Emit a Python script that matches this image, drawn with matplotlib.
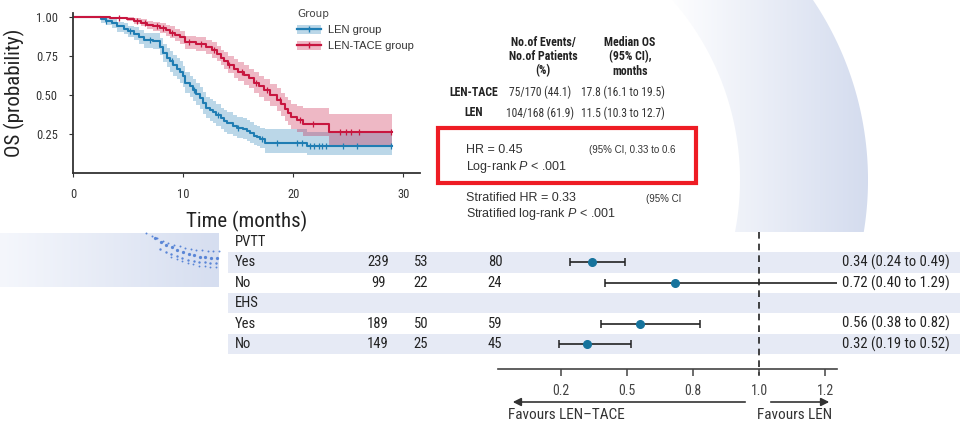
import numpy as np
import matplotlib.pyplot as plt
from matplotlib import font_manager
from matplotlib.colors import LinearSegmentedColormap
from matplotlib.patches import Polygon, Patch, Rectangle
from matplotlib.lines import Line2D

# ---- Kaplan-Meier data ----
t_len = [0, 2.5, 3.0, 3.5, 4.0, 4.6, 5.0, 5.5, 6.0, 6.4, 7.3, 7.9, 8.2, 8.5, 8.8,
         9.1, 9.4, 9.7, 10.0, 10.2, 10.6, 10.9, 11.2, 11.5, 11.8, 12.1, 12.4, 12.7,
         13.0, 13.4, 13.7, 14.0, 14.5, 14.9, 15.4, 15.8, 16.1, 16.4, 16.7, 17.0,
         17.4, 21.2, 29.0]
s_len = [1.0, .985, .975, .96, .94, .925, .91, .893, .87, .85, .846, .81, .77, .74,
         .715, .69, .67, .65, .62, .58, .555, .53, .505, .48, .45, .42, .405, .39,
         .37, .35, .335, .32, .30, .29, .28, .27, .255, .24, .23, .22, .19, .175, .175]
lo_len = [1.0, .965, .95, .93, .905, .89, .87, .85, .825, .80, .795, .755, .71, .68,
          .65, .625, .605, .58, .55, .51, .485, .46, .435, .41, .38, .35, .335, .32,
          .30, .28, .265, .25, .235, .225, .215, .205, .19, .18, .17, .16, .13, .115, .115]
hi_len = [1.0, 1.0, .995, .985, .97, .96, .945, .935, .915, .895, .895, .865, .83,
          .80, .78, .755, .735, .715, .685, .65, .625, .60, .575, .55, .52, .49, .475,
          .46, .44, .42, .405, .39, .37, .36, .35, .34, .325, .31, .30, .29, .28, .265, .265]

t_tace = [0, 3.4, 4.9, 5.5, 6.2, 6.7, 7.3, 7.9, 8.4, 8.8, 9.3, 9.7, 10.2, 11.2, 12.1,
          12.6, 13.1, 13.4, 13.7, 14.1, 14.6, 15.0, 15.5, 16.0, 16.4, 16.9, 17.3,
          17.9, 18.5, 18.9, 19.2, 19.5, 19.8, 20.3, 20.9, 23.2, 29.0]
s_tace = [1.0, .995, .99, .975, .96, .95, .94, .93, .915, .90, .885, .87, .84, .83,
          .81, .79, .765, .74, .72, .695, .67, .65, .63, .61, .58, .555, .53, .50,
          .47, .44, .41, .385, .36, .34, .315, .26, .26]
lo_tace = [1.0, .985, .975, .955, .94, .925, .91, .895, .88, .865, .845, .83, .795,
           .785, .76, .74, .715, .69, .665, .64, .61, .59, .565, .545, .51, .485, .46,
           .43, .395, .365, .335, .31, .285, .265, .24, .18, .18]
hi_tace = [1.0, 1.0, 1.0, .995, .985, .975, .97, .96, .95, .94, .925, .91, .88, .875,
           .855, .84, .815, .79, .775, .75, .73, .71, .69, .67, .645, .62, .60, .57,
           .545, .515, .49, .465, .44, .43, .42, .38, .38]

cens_len = [3.0, 5.2, 7.0, 9.0, 11.0, 13.2, 15.0, 17.2, 18.5, 20.3, 20.8, 21.5,
            21.9, 22.3, 22.6, 23.0, 24.5, 25.8, 28.9]
cens_tace = [4.2, 5.8, 6.5, 7.6, 8.2, 9.0, 10.5, 11.6, 12.8, 14.2, 15.3, 16.6, 17.6,
             18.8, 20.6, 21.8, 24.2, 24.8, 25.2, 26.0, 28.9]

# ---- summary table ----
groups = ["LEN-TACE", "LEN"]
events = ["75/170 (44.1)", "104/168 (61.9)"]
median_os = ["17.8 (16.1 to 19.5)", "11.5 (10.3 to 12.7)"]

# ---- forest plot data ----
row_labels = ["PVTT", "Yes", "No", "EHS", "Yes", "No"]
col_a = ["", "239", "99", "", "189", "149"]
col_b = ["", "53", "22", "", "50", "25"]
col_c = ["", "80", "24", "", "59", "45"]
hr = [None, 0.34, 0.72, None, 0.56, 0.32]
hr_lo = [None, 0.24, 0.40, None, 0.38, 0.19]
hr_hi = [None, 0.49, 1.29, None, 0.82, 0.52]
hr_ticks = [0.2, 0.5, 0.8, 1.0, 1.2]

BLUE = "#1f7db3"
RED = "#c8163f"


def pick_narrow():
    fonts = font_manager.fontManager.ttflist
    for want in ["Liberation Sans Narrow", "Roboto Condensed", "Open Sans Condensed",
                 "Noto Sans Condensed", "DejaVu Sans Condensed"]:
        if any(f.name == want for f in fonts):
            return want, "normal"
    for f in fonts:
        if f.name in ("DejaVu Sans", "Roboto", "Noto Sans", "Open Sans") and \
                f.stretch in ("condensed", "semi-condensed"):
            return f.name, f.stretch
    return "Liberation Sans", "normal"


NARROW_NAME, NARROW_STRETCH = pick_narrow()
NARROW = [NARROW_NAME, "DejaVu Sans"]
SANS = ["Liberation Sans", "DejaVu Sans"]
plt.rcParams["mathtext.fontset"] = "custom"
plt.rcParams["mathtext.it"] = "Liberation Sans:italic"
plt.rcParams["mathtext.rm"] = "Liberation Sans"

fig = plt.figure(figsize=(9.6, 4.32), dpi=100)

# background layer in pixel coordinates
bg = fig.add_axes([0, 0, 1, 1], zorder=0)
bg.axis("off")

# crescent gradient (decoration)
ring_cmap = LinearSegmentedColormap.from_list("ring", ["#ffffff", "#d3dbee"])
yy = np.linspace(0, 232, 60)
x_in = 467 + np.sqrt(273 ** 2 - (yy - 180) ** 2)
x_out = 546 + np.sqrt(322 ** 2 - (yy - 180) ** 2)
ring = Polygon(np.vstack([np.column_stack([x_in, yy]),
                          np.column_stack([x_out[::-1], yy[::-1]])]),
               closed=True, facecolor="none", edgecolor="none",
               transform=bg.transData)
bg.add_patch(ring)
im = bg.imshow(np.linspace(0, 1, 256)[None, :], cmap=ring_cmap, aspect="auto",
               extent=(665, 872, 232, 0), zorder=0)
im.set_clip_path(ring)

# left banner with dots (decoration)
band_cmap = LinearSegmentedColormap.from_list("band", ["#f5f7fc", "#d6def0"])
bg.imshow(np.linspace(0, 1, 256)[None, :], cmap=band_cmap, aspect="auto",
          extent=(0, 219, 287, 233), zorder=0)
for x0, y0, y1, sz in [(146, 233, 251, 2.0), (155, 238, 258, 5.5),
                       (160, 249, 263, 3.0), (171, 257, 267, 1.8)]:
    xs = np.arange(x0, 219, 5.6)
    frac = (xs - x0) / (216 - x0)
    ys = y1 - (y1 - y0) * np.clip(1 - frac, 0, 1) ** 2
    bg.scatter(xs, ys, s=sz, color="#3a6fd0", alpha=0.8, linewidths=0, zorder=1)
bg.set_xlim(0, 960)
bg.set_ylim(432, 0)

# ---- KM plot ----
km = fig.add_axes([73 / 960, 1 - 173 / 432, 347 / 960, 160 / 432], zorder=2)
km.patch.set_alpha(0)
for t, s, lo, hi, cens, col in [(t_len, s_len, lo_len, hi_len, cens_len, BLUE),
                                (t_tace, s_tace, lo_tace, hi_tace, cens_tace, RED)]:
    km.fill_between(t, lo, hi, step="post", color=col, alpha=0.3, linewidth=0)
    km.step(t, s, where="post", color=col, lw=1.5)
    idx = np.searchsorted(t, cens, side="right") - 1
    km.plot(cens, np.array(s)[idx], ls="none", marker="|", ms=4, mew=0.9, color=col)
km.set_xlim(0, 31.5)
km.set_ylim(0, 1.026)
km.set_xticks([0, 10, 20, 30])
km.set_yticks([0.25, 0.5, 0.75, 1.0])
km.set_yticklabels(["0.25", "0.50", "0.75", "1.00"])
for sp in ["top", "right"]:
    km.spines[sp].set_visible(False)
for sp in ["left", "bottom"]:
    km.spines[sp].set_linewidth(1.3)
    km.spines[sp].set_color("#333333")
km.tick_params(length=3, labelsize=9, colors="#333333", pad=8)
for lab in km.get_xticklabels() + km.get_yticklabels():
    lab.set_family(NARROW)
    lab.set_stretch(NARROW_STRETCH)
km.set_xlabel("Time (months)", family=NARROW, stretch=NARROW_STRETCH, fontsize=15,
              color="#222222", labelpad=7)
km.set_ylabel("OS (probability)", family=NARROW, stretch=NARROW_STRETCH,
              fontsize=15, color="#222222", labelpad=8)

handles = [(Patch(color=BLUE, alpha=0.3, lw=0),
            Line2D([], [], color=BLUE, lw=1.6, marker="|", ms=4)),
           (Patch(color=RED, alpha=0.3, lw=0),
            Line2D([], [], color=RED, lw=1.6, marker="|", ms=4))]
leg = km.legend(handles, ["LEN group", "LEN-TACE group"], title="Group",
                loc="upper left", bbox_to_anchor=(287 / 960, 1 + 1 / 432),
                bbox_transform=fig.transFigure, frameon=False,
                prop={"family": SANS, "size": 8}, handlelength=2.2,
                handleheight=0.9, labelspacing=0.5, handletextpad=0.6,
                alignment="left")
leg.get_title().set_fontsize(7.5)
leg.get_title().set_color("#444444")
for txt in leg.get_texts():
    txt.set_color("#333333")

# ---- summary table ----
hdr = dict(family=NARROW, stretch=NARROW_STRETCH, fontsize=8.6, fontweight="bold",
           color="#222222", ha="center", va="center", linespacing=1.1)
val = dict(family=NARROW, stretch=NARROW_STRETCH, fontsize=8.3, color="#333333",
           ha="center", va="center")
bg.text(543, 57, "No.of Events/\nNo.of Patients\n(%)", **hdr)
bg.text(630, 57, "Median OS\n(95% CI),\nmonths", **hdr)
for i, g in enumerate(groups):
    y = 92 + 21 * i
    bg.text(474, y, g, **hdr)
    bg.text(540, y, events[i], **val)
    bg.text(623, y, median_os[i], **val)

bg.add_patch(Rectangle((438, 128), 258, 55, fill=False, edgecolor="#ee1c24",
                       lw=3, zorder=3))
st = dict(family=SANS, fontsize=9, color="#333333", va="center", ha="left")
bg.text(466, 150, "HR = 0.45", **st)
bg.text(466, 167, "Log-rank $P$ < .001", **st)
bg.text(589, 150, "(95% CI, 0.33 to 0.6", family=SANS, fontsize=7,
        color="#333333", va="center")
bg.text(466, 198, "Stratified HR = 0.33", **st)
bg.text(466, 214, "Stratified log-rank $P$ < .001", **st)
bg.text(646, 199, "(95% CI", family=SANS, fontsize=7, color="#333333",
        va="center")

# ---- forest table ----
rows = np.arange(len(row_labels))
ylims = (6.22, -0.49)
tb = fig.add_axes([228 / 960, 1 - 369 / 432, 732 / 960, 137 / 432], zorder=1)
tb.patch.set_alpha(0)
tb.set_xlim(228, 960)
tb.set_ylim(*ylims)
tb.axis("off")
ft = dict(family=NARROW, stretch=NARROW_STRETCH, fontsize=10.5, color="#222222",
          va="center")
for i in rows:
    if i % 2 == 1:
        tb.axhspan(i - 0.5, i + 0.5, color="#e6eaf5", lw=0, zorder=0)
    tb.text(235, i, row_labels[i], ha="left", **ft)
    tb.text(378, i, col_a[i], ha="center", **ft)
    tb.text(421, i, col_b[i], ha="center", **ft)
    tb.text(495, i, col_c[i], ha="center", **ft)
    if hr[i] is not None:
        tb.text(950, i, f"{hr[i]:.2f} ({hr_lo[i]:.2f} to {hr_hi[i]:.2f})",
                ha="right", **ft)


# custom HR axis: equally spaced ticks
def fwd(v):
    v = np.asarray(v, dtype=float)
    u = np.interp(v, hr_ticks, range(len(hr_ticks)))
    u = np.where(v < hr_ticks[0], (v - 0.2) / 0.3, u)
    return np.where(v > hr_ticks[-1], 4 + (v - 1.2) / 0.2, u)


def inv(u):
    u = np.asarray(u, dtype=float)
    v = np.interp(u, range(len(hr_ticks)), hr_ticks)
    v = np.where(u < 0, 0.2 + 0.3 * u, v)
    return np.where(u > 4, 1.2 + 0.2 * (u - 4), v)


fp = fig.add_axes([498 / 960, 1 - 369 / 432, 339 / 960, 137 / 432], zorder=2)
fp.patch.set_alpha(0)
fp.set_xscale("function", functions=(fwd, inv))
fp.set_xlim(-0.086, 1.236)
fp.set_ylim(*ylims)
for sp in ["top", "right", "left"]:
    fp.spines[sp].set_visible(False)
fp.spines["bottom"].set_color("#444444")
fp.spines["bottom"].set_linewidth(1.2)
fp.set_yticks([])
fp.set_xticks(hr_ticks)
fp.set_xticklabels([f"{v:.1f}" for v in hr_ticks])
fp.minorticks_off()
fp.tick_params(axis="x", length=5, width=1.1, colors="#444444", labelsize=10,
               pad=6)
for lab in fp.get_xticklabels():
    lab.set_family(NARROW)
    lab.set_stretch(NARROW_STRETCH)
fp.plot([1.0, 1.0], [ylims[1], ylims[0] + 0.3], color="#222222", lw=1.2,
        ls=(0, (4, 3)), clip_on=False, zorder=1)
sel = [i for i in rows if hr[i] is not None]
h = np.array([hr[i] for i in sel])
lo = np.array([hr_lo[i] for i in sel])
hi = np.array([hr_hi[i] for i in sel])
fp.errorbar(h, sel, xerr=[h - lo, hi - h], fmt="o", ms=5.5, mfc="#16739c",
            mec="#16739c", ecolor="#222222", elinewidth=1.2, capsize=3,
            capthick=1.1, zorder=3)

# favours arrows
arr = dict(arrowstyle="-|>", color="#333333", lw=1.2, mutation_scale=12)
bg.annotate("", xy=(510, 402), xytext=(748, 402), arrowprops=arr)
bg.annotate("", xy=(832, 402), xytext=(768, 402), arrowprops=arr)
bg.text(508, 415, "Favours LEN\u2013TACE", family=NARROW, stretch=NARROW_STRETCH,
        fontsize=11, color="#333333", va="center", ha="left")
bg.text(757, 415, "Favours LEN", family=NARROW, stretch=NARROW_STRETCH,
        fontsize=11, color="#333333", va="center", ha="left")

fig.savefig("out.png", dpi=100, facecolor="white")
